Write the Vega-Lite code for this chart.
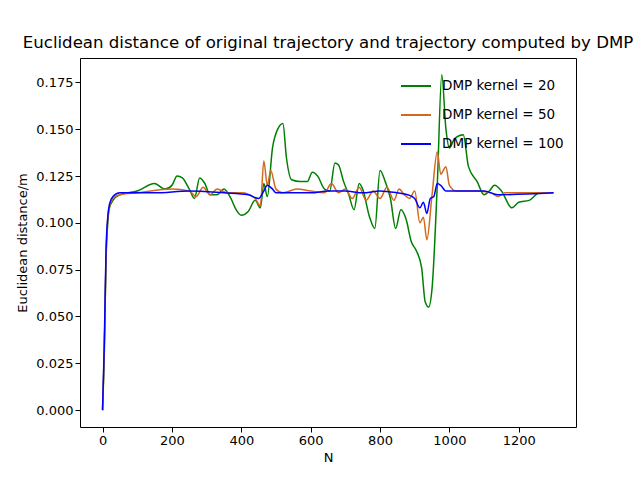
{
  "$schema": "https://vega.github.io/schema/vega-lite/v6.json",
  "width": 496,
  "height": 369,
  "autosize": "none",
  "padding": {"left": 80, "top": 58, "right": 64, "bottom": 53},
  "config": {
    "font": "DejaVu Sans",
    "view": {"stroke": "black", "strokeWidth": 1},
    "axis": {"grid": false, "domain": false, "tickColor": "black", "tickSize": 5, "labelFontSize": 13, "titleFontSize": 13, "labelColor": "black", "titleColor": "black", "titleFontWeight": "normal", "labelFont": "DejaVu Sans", "titleFont": "DejaVu Sans"}
  },
  "title": {"text": "Euclidean distance of original trajectory and trajectory computed by DMP", "fontSize": 16.6, "fontWeight": "normal", "font": "DejaVu Sans", "offset": 6},
  "data": {"values": [
    {"N":0,"d":0,"k":"DMP kernel = 20"},{"N":5,"d":0.03,"k":"DMP kernel = 20"},{"N":10,"d":0.08,"k":"DMP kernel = 20"},{"N":15,"d":0.1,"k":"DMP kernel = 20"},{"N":20,"d":0.108,"k":"DMP kernel = 20"},{"N":30,"d":0.112,"k":"DMP kernel = 20"},{"N":50,"d":0.115,"k":"DMP kernel = 20"},{"N":100,"d":0.117,"k":"DMP kernel = 20"},{"N":150,"d":0.121,"k":"DMP kernel = 20"},{"N":180,"d":0.118,"k":"DMP kernel = 20"},{"N":200,"d":0.12,"k":"DMP kernel = 20"},{"N":215,"d":0.125,"k":"DMP kernel = 20"},{"N":230,"d":0.124,"k":"DMP kernel = 20"},{"N":250,"d":0.118,"k":"DMP kernel = 20"},{"N":265,"d":0.113,"k":"DMP kernel = 20"},{"N":280,"d":0.124,"k":"DMP kernel = 20"},{"N":295,"d":0.121,"k":"DMP kernel = 20"},{"N":310,"d":0.115,"k":"DMP kernel = 20"},{"N":330,"d":0.115,"k":"DMP kernel = 20"},{"N":350,"d":0.118,"k":"DMP kernel = 20"},{"N":370,"d":0.113,"k":"DMP kernel = 20"},{"N":385,"d":0.107,"k":"DMP kernel = 20"},{"N":400,"d":0.104,"k":"DMP kernel = 20"},{"N":420,"d":0.106,"k":"DMP kernel = 20"},{"N":440,"d":0.112,"k":"DMP kernel = 20"},{"N":455,"d":0.108,"k":"DMP kernel = 20"},{"N":465,"d":0.121,"k":"DMP kernel = 20"},{"N":475,"d":0.114,"k":"DMP kernel = 20"},{"N":490,"d":0.14,"k":"DMP kernel = 20"},{"N":505,"d":0.15,"k":"DMP kernel = 20"},{"N":520,"d":0.153,"k":"DMP kernel = 20"},{"N":530,"d":0.135,"k":"DMP kernel = 20"},{"N":545,"d":0.123,"k":"DMP kernel = 20"},{"N":570,"d":0.122,"k":"DMP kernel = 20"},{"N":590,"d":0.122,"k":"DMP kernel = 20"},{"N":605,"d":0.127,"k":"DMP kernel = 20"},{"N":620,"d":0.125,"k":"DMP kernel = 20"},{"N":640,"d":0.118,"k":"DMP kernel = 20"},{"N":655,"d":0.117,"k":"DMP kernel = 20"},{"N":670,"d":0.132,"k":"DMP kernel = 20"},{"N":680,"d":0.131,"k":"DMP kernel = 20"},{"N":695,"d":0.122,"k":"DMP kernel = 20"},{"N":710,"d":0.115,"k":"DMP kernel = 20"},{"N":725,"d":0.107,"k":"DMP kernel = 20"},{"N":740,"d":0.121,"k":"DMP kernel = 20"},{"N":750,"d":0.118,"k":"DMP kernel = 20"},{"N":770,"d":0.103,"k":"DMP kernel = 20"},{"N":785,"d":0.097,"k":"DMP kernel = 20"},{"N":800,"d":0.128,"k":"DMP kernel = 20"},{"N":815,"d":0.122,"k":"DMP kernel = 20"},{"N":830,"d":0.113,"k":"DMP kernel = 20"},{"N":845,"d":0.097,"k":"DMP kernel = 20"},{"N":860,"d":0.107,"k":"DMP kernel = 20"},{"N":875,"d":0.102,"k":"DMP kernel = 20"},{"N":890,"d":0.09,"k":"DMP kernel = 20"},{"N":905,"d":0.085,"k":"DMP kernel = 20"},{"N":920,"d":0.076,"k":"DMP kernel = 20"},{"N":930,"d":0.058,"k":"DMP kernel = 20"},{"N":940,"d":0.055,"k":"DMP kernel = 20"},{"N":950,"d":0.065,"k":"DMP kernel = 20"},{"N":965,"d":0.12,"k":"DMP kernel = 20"},{"N":978,"d":0.179,"k":"DMP kernel = 20"},{"N":990,"d":0.15,"k":"DMP kernel = 20"},{"N":1000,"d":0.14,"k":"DMP kernel = 20"},{"N":1015,"d":0.145,"k":"DMP kernel = 20"},{"N":1040,"d":0.147,"k":"DMP kernel = 20"},{"N":1055,"d":0.13,"k":"DMP kernel = 20"},{"N":1080,"d":0.122,"k":"DMP kernel = 20"},{"N":1100,"d":0.115,"k":"DMP kernel = 20"},{"N":1115,"d":0.117,"k":"DMP kernel = 20"},{"N":1130,"d":0.12,"k":"DMP kernel = 20"},{"N":1150,"d":0.117,"k":"DMP kernel = 20"},{"N":1180,"d":0.108,"k":"DMP kernel = 20"},{"N":1200,"d":0.111,"k":"DMP kernel = 20"},{"N":1230,"d":0.112,"k":"DMP kernel = 20"},{"N":1260,"d":0.116,"k":"DMP kernel = 20"},{"N":1300,"d":0.116,"k":"DMP kernel = 20"},

    {"N":0,"d":0,"k":"DMP kernel = 50"},{"N":5,"d":0.032,"k":"DMP kernel = 50"},{"N":10,"d":0.082,"k":"DMP kernel = 50"},{"N":15,"d":0.102,"k":"DMP kernel = 50"},{"N":20,"d":0.109,"k":"DMP kernel = 50"},{"N":30,"d":0.113,"k":"DMP kernel = 50"},{"N":50,"d":0.115,"k":"DMP kernel = 50"},{"N":100,"d":0.116,"k":"DMP kernel = 50"},{"N":200,"d":0.118,"k":"DMP kernel = 50"},{"N":250,"d":0.117,"k":"DMP kernel = 50"},{"N":270,"d":0.114,"k":"DMP kernel = 50"},{"N":290,"d":0.119,"k":"DMP kernel = 50"},{"N":310,"d":0.115,"k":"DMP kernel = 50"},{"N":330,"d":0.118,"k":"DMP kernel = 50"},{"N":360,"d":0.116,"k":"DMP kernel = 50"},{"N":400,"d":0.116,"k":"DMP kernel = 50"},{"N":440,"d":0.113,"k":"DMP kernel = 50"},{"N":455,"d":0.109,"k":"DMP kernel = 50"},{"N":465,"d":0.133,"k":"DMP kernel = 50"},{"N":475,"d":0.12,"k":"DMP kernel = 50"},{"N":485,"d":0.128,"k":"DMP kernel = 50"},{"N":500,"d":0.118,"k":"DMP kernel = 50"},{"N":520,"d":0.116,"k":"DMP kernel = 50"},{"N":560,"d":0.118,"k":"DMP kernel = 50"},{"N":600,"d":0.117,"k":"DMP kernel = 50"},{"N":640,"d":0.116,"k":"DMP kernel = 50"},{"N":660,"d":0.121,"k":"DMP kernel = 50"},{"N":680,"d":0.116,"k":"DMP kernel = 50"},{"N":700,"d":0.118,"k":"DMP kernel = 50"},{"N":720,"d":0.113,"k":"DMP kernel = 50"},{"N":740,"d":0.119,"k":"DMP kernel = 50"},{"N":760,"d":0.112,"k":"DMP kernel = 50"},{"N":780,"d":0.117,"k":"DMP kernel = 50"},{"N":800,"d":0.113,"k":"DMP kernel = 50"},{"N":820,"d":0.119,"k":"DMP kernel = 50"},{"N":840,"d":0.112,"k":"DMP kernel = 50"},{"N":855,"d":0.118,"k":"DMP kernel = 50"},{"N":870,"d":0.115,"k":"DMP kernel = 50"},{"N":885,"d":0.113,"k":"DMP kernel = 50"},{"N":900,"d":0.117,"k":"DMP kernel = 50"},{"N":915,"d":0.1,"k":"DMP kernel = 50"},{"N":925,"d":0.103,"k":"DMP kernel = 50"},{"N":935,"d":0.091,"k":"DMP kernel = 50"},{"N":950,"d":0.115,"k":"DMP kernel = 50"},{"N":965,"d":0.138,"k":"DMP kernel = 50"},{"N":975,"d":0.126,"k":"DMP kernel = 50"},{"N":990,"d":0.13,"k":"DMP kernel = 50"},{"N":1000,"d":0.12,"k":"DMP kernel = 50"},{"N":1020,"d":0.117,"k":"DMP kernel = 50"},{"N":1040,"d":0.117,"k":"DMP kernel = 50"},{"N":1080,"d":0.117,"k":"DMP kernel = 50"},{"N":1120,"d":0.116,"k":"DMP kernel = 50"},{"N":1140,"d":0.114,"k":"DMP kernel = 50"},{"N":1160,"d":0.116,"k":"DMP kernel = 50"},{"N":1300,"d":0.116,"k":"DMP kernel = 50"},

    {"N":0,"d":0,"k":"DMP kernel = 100"},{"N":5,"d":0.035,"k":"DMP kernel = 100"},{"N":10,"d":0.085,"k":"DMP kernel = 100"},{"N":15,"d":0.103,"k":"DMP kernel = 100"},{"N":20,"d":0.11,"k":"DMP kernel = 100"},{"N":30,"d":0.114,"k":"DMP kernel = 100"},{"N":50,"d":0.116,"k":"DMP kernel = 100"},{"N":150,"d":0.116,"k":"DMP kernel = 100"},{"N":250,"d":0.117,"k":"DMP kernel = 100"},{"N":350,"d":0.116,"k":"DMP kernel = 100"},{"N":420,"d":0.115,"k":"DMP kernel = 100"},{"N":450,"d":0.113,"k":"DMP kernel = 100"},{"N":465,"d":0.117,"k":"DMP kernel = 100"},{"N":475,"d":0.12,"k":"DMP kernel = 100"},{"N":490,"d":0.118,"k":"DMP kernel = 100"},{"N":500,"d":0.116,"k":"DMP kernel = 100"},{"N":600,"d":0.116,"k":"DMP kernel = 100"},{"N":650,"d":0.117,"k":"DMP kernel = 100"},{"N":700,"d":0.117,"k":"DMP kernel = 100"},{"N":750,"d":0.116,"k":"DMP kernel = 100"},{"N":800,"d":0.117,"k":"DMP kernel = 100"},{"N":850,"d":0.116,"k":"DMP kernel = 100"},{"N":880,"d":0.115,"k":"DMP kernel = 100"},{"N":900,"d":0.113,"k":"DMP kernel = 100"},{"N":915,"d":0.108,"k":"DMP kernel = 100"},{"N":925,"d":0.111,"k":"DMP kernel = 100"},{"N":935,"d":0.105,"k":"DMP kernel = 100"},{"N":945,"d":0.113,"k":"DMP kernel = 100"},{"N":955,"d":0.114,"k":"DMP kernel = 100"},{"N":965,"d":0.121,"k":"DMP kernel = 100"},{"N":975,"d":0.12,"k":"DMP kernel = 100"},{"N":990,"d":0.117,"k":"DMP kernel = 100"},{"N":1100,"d":0.117,"k":"DMP kernel = 100"},{"N":1140,"d":0.115,"k":"DMP kernel = 100"},{"N":1300,"d":0.116,"k":"DMP kernel = 100"}
  ]},
  "mark": {"type": "line", "strokeWidth": 1.5, "clip": true, "interpolate": "monotone"},
  "encoding": {
    "x": {"field": "N", "type": "quantitative", "title": "N", "scale": {"domain": [-65, 1365], "nice": false, "zero": false}, "axis": {"values": [0, 200, 400, 600, 800, 1000, 1200], "format": "d", "titlePadding": 4}},
    "y": {"field": "d", "type": "quantitative", "title": "Euclidean distance/m", "scale": {"domain": [-0.009, 0.188], "nice": false, "zero": false}, "axis": {"values": [0, 0.025, 0.05, 0.075, 0.1, 0.125, 0.15, 0.175], "format": ".3f", "titlePadding": 6}},
    "color": {"field": "k", "type": "nominal", "sort": ["DMP kernel = 20", "DMP kernel = 50", "DMP kernel = 100"],
      "scale": {"domain": ["DMP kernel = 20", "DMP kernel = 50", "DMP kernel = 100"], "range": ["#008000", "#d2691e", "#0000ff"]},
      "legend": {"title": null, "orient": "top-right", "symbolType": "stroke", "symbolSize": 900, "symbolStrokeWidth": 2, "labelFontSize": 13.5, "labelColor": "black", "labelOffset": 10, "rowPadding": 6, "offset": 12}}
  }
}
